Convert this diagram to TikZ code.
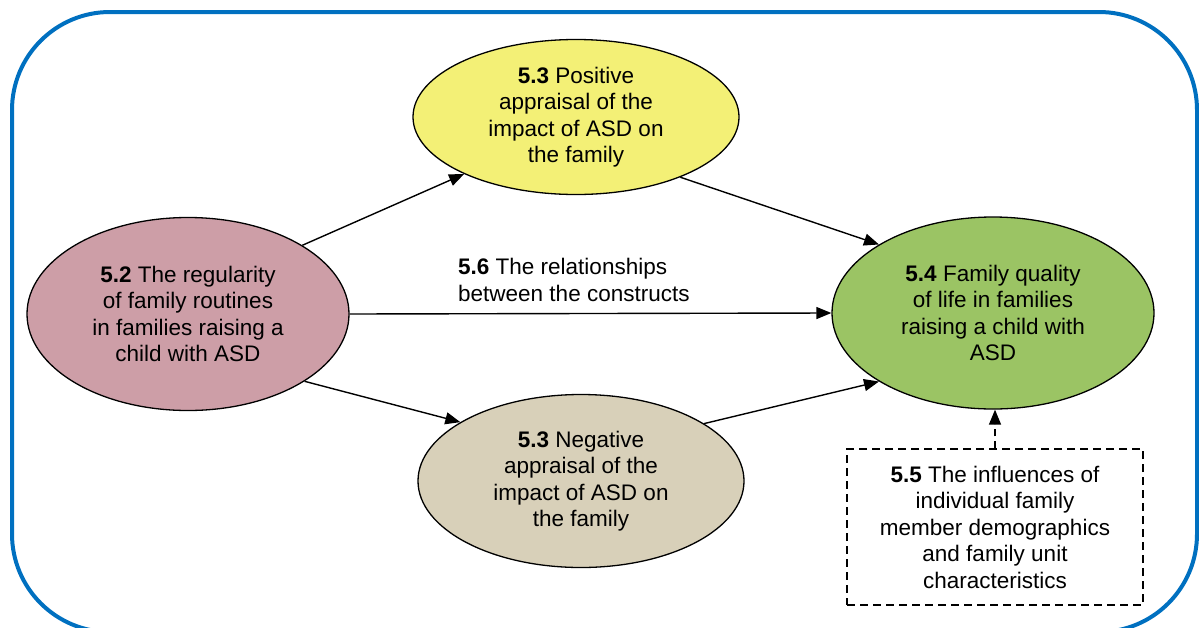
\documentclass[tikz,border=0pt]{standalone}
\usepackage{fontspec}
\setmainfont{Liberation Sans}
\usetikzlibrary{shapes.geometric,arrows.meta}

\definecolor{frameblue}{RGB}{0,112,192}
\definecolor{posyellow}{RGB}{243,240,118}
\definecolor{routinepink}{RGB}{205,158,167}
\definecolor{qolgreen}{RGB}{155,196,100}
\definecolor{negbeige}{RGB}{216,208,185}

\tikzset{
  construct/.style={ellipse, draw=black, line width=1.3pt, inner sep=0pt,
    align=center, font=\fontsize{22.5}{26.5}\selectfont},
  link/.style={line width=1.4pt, -{Triangle[length=15pt,width=12pt]}},
  dashlink/.style={link, dash pattern=on 7pt off 5pt},
  influencebox/.style={draw=black, line width=1.4pt, dash pattern=on 8pt off 5pt,
    minimum width=296pt, minimum height=156pt, inner sep=0pt,
    align=center, font=\fontsize{22.5}{26.5}\selectfont},
  caption/.style={align=left, inner sep=0pt, font=\fontsize{22.5}{26.5}\selectfont}
}

\begin{document}
\begin{tikzpicture}[x=1pt,y=-1pt]
  \useasboundingbox (0,0) rectangle (1199,627);
  \clip (0,0) rectangle (1199,627);

  % outer frame
  \draw[frameblue, line width=4pt, rounded corners=98pt] (12,12) rectangle (1197,632);

  % constructs
  \node[construct, fill=posyellow, minimum width=326pt, minimum height=155pt]
    (pos) at (576,117) {\textbf{5.3} Positive\\appraisal of the\\impact of ASD on\\the family};
  \node[construct, fill=routinepink, minimum width=322pt, minimum height=193pt]
    (routine) at (188,314) {\textbf{5.2} The regularity\\of family routines\\in families raising a\\child with ASD};
  \node[construct, fill=qolgreen, minimum width=322pt, minimum height=192pt]
    (qol) at (993,313) {\textbf{5.4} Family quality\\of life in families\\raising a child with\\ASD};
  \node[construct, fill=negbeige, minimum width=326pt, minimum height=173pt]
    (neg) at (581,481) {\textbf{5.3} Negative\\appraisal of the\\impact of ASD on\\the family};

  % influences box
  \node[influencebox] (infl) at (995,527)
    {\textbf{5.5} The influences of\\individual family\\member demographics\\and family unit\\characteristics};

  % label of the direct path
  \node[caption, anchor=west] (rel) at (458,280)
    {\textbf{5.6} The relationships\\between the constructs};

  % paths between constructs
  \draw[link] (routine.31) -- (pos.207);
  \draw[link] (pos.330.5) -- (qol.149);
  \draw[link] (routine.east) -- (qol.west);
  \draw[link] (routine.330.7) -- (neg.154);
  \draw[link] (neg.25) -- (qol.211);
  \draw[dashlink] (infl.north) -- (infl.north |- qol.south);
\end{tikzpicture}
\end{document}
